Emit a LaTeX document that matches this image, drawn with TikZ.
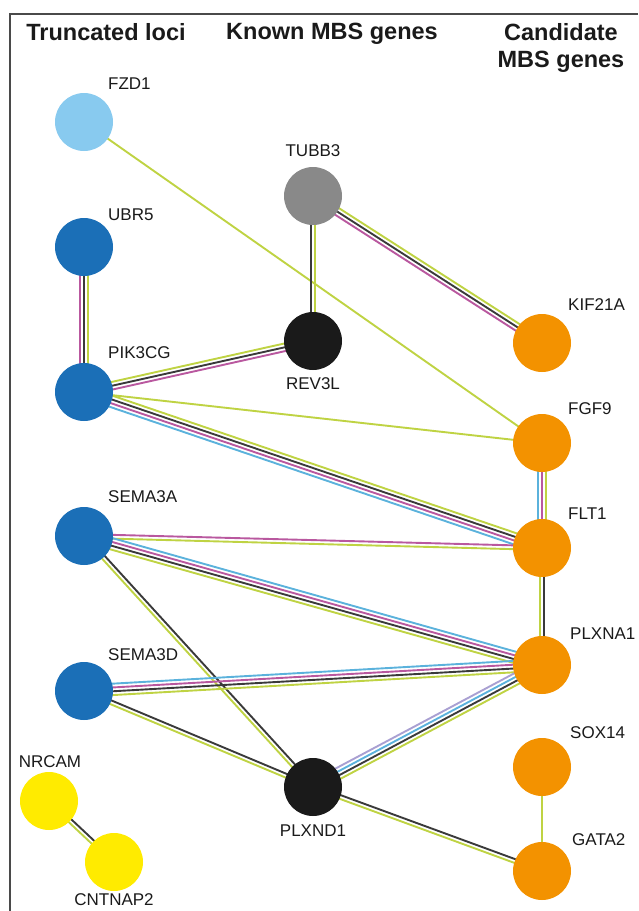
\documentclass[tikz,border=0pt]{standalone}
\usepackage{fontspec}
\setmainfont{Liberation Sans}
\usetikzlibrary{calc}
\pgfdeclarelayer{background}
\pgfsetlayers{background,main}
\definecolor{nlight}{HTML}{88CAEF}
\definecolor{nblue}{HTML}{1B6FB7}
\definecolor{ngray}{HTML}{898989}
\definecolor{nblack}{HTML}{1A1A1A}
\definecolor{norange}{HTML}{F39200}
\definecolor{nyellow}{HTML}{FFEB00}
\definecolor{egreen}{HTML}{BFD343}
\definecolor{eblack}{HTML}{3A3A3A}
\definecolor{emag}{HTML}{B9589F}
\definecolor{eblue}{HTML}{5BB2DC}
\definecolor{elav}{HTML}{A9A0D2}
\definecolor{frame}{HTML}{4A4A4A}
\tikzset{
  gene/.style={circle, minimum size=58pt, inner sep=0pt, draw=none},
  lbl/.style={font=\fontsize{17}{20}\selectfont, inner sep=0pt, text=nblack, text height=12.2pt, text depth=0pt},
  head/.style={font=\bfseries\fontsize{23.5}{27}\selectfont, align=center, inner sep=0pt, anchor=north, text=nblack},
  lane/.style={line width=1.9pt},
}
\newcommand\medge[3]{%
  \foreach \lanecol [count=\i] in {#3} {\xdef\nlanes{\i}}%
  \foreach \lanecol [count=\i] in {#3} {%
    \pgfmathsetmacro\off{((\nlanes+1)/2-\i)*3.8}%
    \draw[lane, draw=\lanecol] ($(#1.center)!\off pt!90:(#2.center)$) -- ($(#2.center)!\off pt!-90:(#1.center)$);
  }%
}
\begin{document}
\begin{tikzpicture}[x=1pt, y=-1pt]
\useasboundingbox (0,0) rectangle (638,911);
\draw[frame, line width=2pt] (9.5,911) -- (9.5,13.5) -- (638,13.5);

% headings
\node[head] (h1) at (106,23) {Truncated loci};
\node[head] (h2) at (332,23) {Known MBS genes};
\node[head] (h3) at (561,23) {Candidate\\MBS genes};

% nodes
\node[gene, fill=nlight] (fzd1) at (84,122) {};
\node[gene, fill=nblue] (ubr5) at (84,247) {};
\node[gene, fill=nblue] (pik3cg) at (84,392) {};
\node[gene, fill=nblue] (sema3a) at (84,536) {};
\node[gene, fill=nblue] (sema3d) at (84,691) {};
\node[gene, fill=nyellow] (nrcam) at (49,801) {};
\node[gene, fill=nyellow] (cntnap2) at (114,862) {};
\node[gene, fill=ngray] (tubb3) at (313,196) {};
\node[gene, fill=nblack] (rev3l) at (313,341) {};
\node[gene, fill=nblack] (plxnd1) at (313,787) {};
\node[gene, fill=norange] (kif21a) at (542,343) {};
\node[gene, fill=norange] (fgf9) at (542,443) {};
\node[gene, fill=norange] (flt1) at (542,548) {};
\node[gene, fill=norange] (plxna1) at (542,665) {};
\node[gene, fill=norange] (sox14) at (542,767) {};
\node[gene, fill=norange] (gata2) at (542,871) {};

% labels
\node[lbl, anchor=west] (fzd1-l) at (108,83) {FZD1};
\node[lbl, anchor=west] (ubr5-l) at (108,214) {UBR5};
\node[lbl, anchor=west] (pik3cg-l) at (108,352) {PIK3CG};
\node[lbl, anchor=west] (sema3a-l) at (108,496) {SEMA3A};
\node[lbl, anchor=west] (sema3d-l) at (108,654) {SEMA3D};
\node[lbl] (nrcam-l) at (50,761) {NRCAM};
\node[lbl] (cntnap2-l) at (114,899) {CNTNAP2};
\node[lbl] (tubb3-l) at (313,150) {TUBB3};
\node[lbl] (rev3l-l) at (313,383) {REV3L};
\node[lbl] (plxnd1-l) at (313,830) {PLXND1};
\node[lbl, anchor=west] (kif21a-l) at (568,304) {KIF21A};
\node[lbl, anchor=west] (fgf9-l) at (568,408) {FGF9};
\node[lbl, anchor=west] (flt1-l) at (568,513) {FLT1};
\node[lbl, anchor=west] (plxna1-l) at (570,633) {PLXNA1};
\node[lbl, anchor=west] (sox14-l) at (570,732) {SOX14};
\node[lbl, anchor=west] (gata2-l) at (572,839) {GATA2};

\begin{pgfonlayer}{background}
\medge{fzd1}{fgf9}{egreen}
\medge{tubb3}{rev3l}{egreen,eblack}
\medge{tubb3}{kif21a}{egreen,eblack,emag}
\medge{ubr5}{pik3cg}{egreen,eblack,emag}
\medge{pik3cg}{rev3l}{egreen,eblack,emag}
\medge{pik3cg}{fgf9}{egreen}
\medge{pik3cg}{flt1}{egreen,eblack,emag,eblue}
\medge{fgf9}{flt1}{egreen,emag,eblue}
\medge{sema3a}{flt1}{emag,egreen}
\medge{sema3a}{plxna1}{eblue,emag,eblack,egreen}
\medge{sema3a}{plxnd1}{eblack,egreen}
\medge{flt1}{plxna1}{eblack,egreen}
\medge{sema3d}{plxna1}{eblue,emag,eblack,egreen}
\medge{sema3d}{plxnd1}{eblack,egreen}
\medge{plxnd1}{plxna1}{elav,eblue,eblack,egreen}
\medge{plxnd1}{gata2}{eblack,egreen}
\medge{sox14}{gata2}{egreen}
\medge{nrcam}{cntnap2}{eblack,egreen}
\end{pgfonlayer}
\end{tikzpicture}
\end{document}
